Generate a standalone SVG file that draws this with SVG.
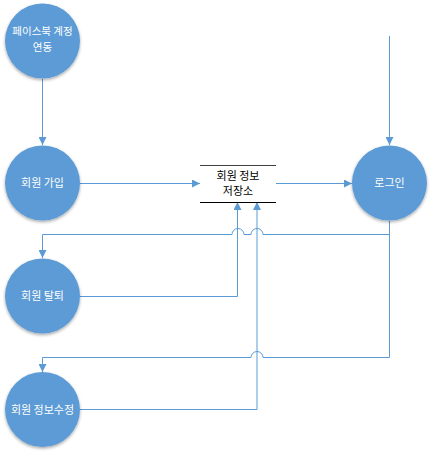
<svg xmlns="http://www.w3.org/2000/svg" width="432" height="455" viewBox="0 0 432 455">
<style>
.node circle{fill:#5B9BD5;filter:url(#sh)}
.lbl{font-family:"Noto Sans CJK KR","Noto Sans",sans-serif;font-size:11px;fill:#fff;text-anchor:middle}
.sm{font-size:10.5px}
.dl{font-family:"Noto Sans CJK KR","Noto Sans",sans-serif;font-size:11px;fill:#000;text-anchor:middle}
.c{fill:none;stroke:#5B9BD5;stroke-width:1}
</style>
<defs>
<filter id="sh" x="-20%" y="-20%" width="140%" height="150%">
<feDropShadow dx="0" dy="1.5" stdDeviation="1.5" flood-color="#000" flood-opacity="0.35"/>
</filter>
<marker id="ar" viewBox="0 0 10 10" refX="10" refY="5" markerWidth="8" markerHeight="8" markerUnits="userSpaceOnUse" orient="auto">
<path d="M0,0 L10,5 L0,10 Z" fill="#5B9BD5"/>
</marker>
</defs>
<g id="connectors">
<path class="c" d="M42.5 79 V145" marker-end="url(#ar)"/>
<path class="c" d="M80 183.5 H200" marker-end="url(#ar)"/>
<path class="c" d="M276 183.5 H352" marker-end="url(#ar)"/>
<path class="c" d="M389.5 36 V145" marker-end="url(#ar)"/>
<path class="c" d="M389.5 221 V234.5 H263 A6 6 0 0 0 251 234.5 H244 A6 6 0 0 0 232 234.5 H42.5 V258" marker-end="url(#ar)"/>
<path class="c" d="M389.5 221 V357.5 H263 A6 6 0 0 0 251 357.5 H42.5 V372" marker-end="url(#ar)"/>
<path class="c" d="M80 296.5 H237.5 V202" marker-end="url(#ar)"/>
<path class="c" d="M80 409.5 H257 V202" marker-end="url(#ar)"/>
</g>
<g id="facebook" class="node">
<circle cx="42.5" cy="41" r="37.5"/>
<text class="lbl sm" x="42.5" y="35">페이스북 계정</text>
<text class="lbl sm" x="42.5" y="50.5">연동</text>
</g>
<g id="signup" class="node">
<circle cx="42.5" cy="183" r="37.5"/>
<text class="lbl" x="42.5" y="187">회원 가입</text>
</g>
<g id="withdraw" class="node">
<circle cx="42.5" cy="296" r="37.5"/>
<text class="lbl" x="42.5" y="300">회원 탈퇴</text>
</g>
<g id="edit" class="node">
<circle cx="42.5" cy="409.5" r="37.5"/>
<text class="lbl" x="42.5" y="413.5">회원 정보수정</text>
</g>
<g id="login" class="node">
<circle cx="389.5" cy="183" r="37.5"/>
<text class="lbl" x="389.5" y="187">로그인</text>
</g>
<g id="store">
<line x1="200" y1="165.5" x2="276" y2="165.5" stroke="#404040" stroke-width="1"/>
<line x1="200" y1="202.5" x2="276" y2="202.5" stroke="#000" stroke-width="1"/>
<text class="dl" x="238" y="180">회원 정보</text>
<text class="dl" x="238" y="195">저장소</text>
</g>
</svg>
